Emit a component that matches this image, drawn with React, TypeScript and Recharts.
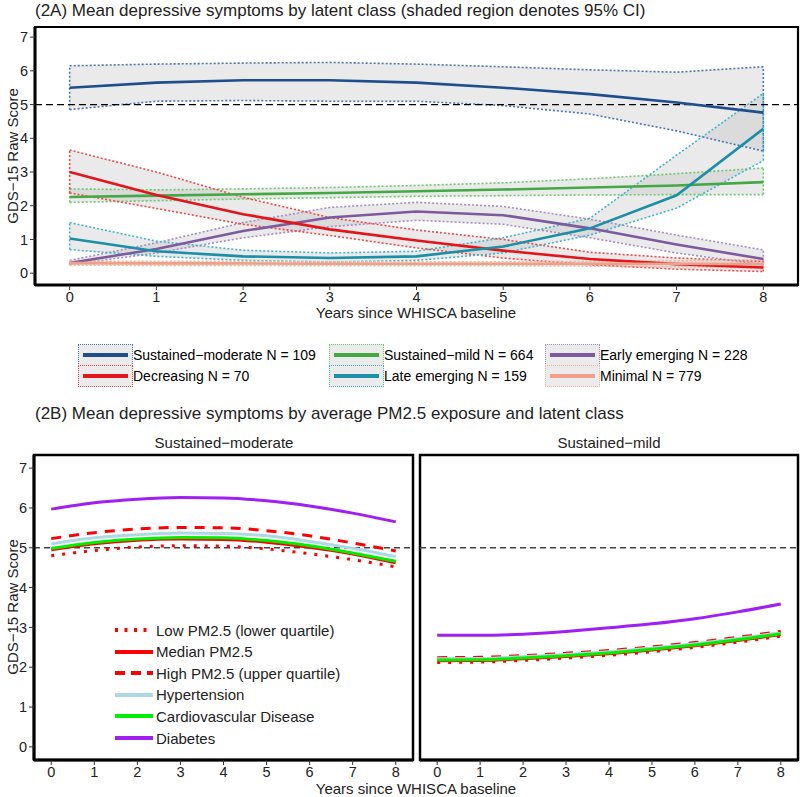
import { ComposedChart, Line, Area, XAxis, YAxis, ReferenceLine, ReferenceArea } from 'recharts'

const years = [0, 1, 2, 3, 4, 5, 6, 7, 8]
const yTicks = [0, 1, 2, 3, 4, 5, 6, 7]

// (2A) latent class means with 95% CI
const modMean = [5.5, 5.65, 5.72, 5.72, 5.65, 5.5, 5.31, 5.06, 4.76]
const modLo = [4.85, 5.1, 5.12, 5.1, 5.1, 4.97, 4.72, 4.22, 3.62]
const modHi = [6.15, 6.2, 6.23, 6.25, 6.2, 6.12, 6.03, 5.96, 6.12]

const mildMean = [2.26, 2.3, 2.34, 2.38, 2.43, 2.48, 2.54, 2.6, 2.7]
const mildLo = [2.1, 2.15, 2.2, 2.24, 2.28, 2.3, 2.32, 2.33, 2.33]
const mildHi = [2.5, 2.47, 2.5, 2.54, 2.6, 2.68, 2.8, 2.95, 3.12]

const earlyMean = [0.3, 0.72, 1.25, 1.65, 1.83, 1.72, 1.33, 0.85, 0.42]
const earlyLo = [0.25, 0.6, 1.05, 1.38, 1.57, 1.45, 1.05, 0.6, 0.25]
const earlyHi = [0.38, 0.9, 1.5, 1.95, 2.1, 1.98, 1.6, 1.13, 0.69]

const decMean = [3.0, 2.32, 1.75, 1.3, 0.97, 0.67, 0.42, 0.27, 0.17]
const decLo = [2.38, 1.92, 1.45, 1.12, 0.75, 0.45, 0.25, 0.12, 0.05]
const decHi = [3.65, 3.0, 2.25, 1.65, 1.28, 1.0, 0.62, 0.45, 0.35]

const lateMean = [1.03, 0.65, 0.5, 0.45, 0.5, 0.79, 1.33, 2.31, 4.28]
const lateLo = [0.7, 0.5, 0.38, 0.33, 0.38, 0.6, 1.13, 1.93, 3.34]
const lateHi = [1.5, 0.95, 0.68, 0.6, 0.65, 1.05, 1.63, 3.5, 5.33]

const minMean = [0.3, 0.29, 0.29, 0.28, 0.28, 0.28, 0.28, 0.28, 0.27]
const minLo = [0.24, 0.23, 0.23, 0.22, 0.22, 0.22, 0.21, 0.19, 0.15]
const minHi = [0.36, 0.35, 0.35, 0.34, 0.34, 0.34, 0.35, 0.37, 0.4]

// (2B) predicted means, Sustained-moderate panel
const lowMod = [4.8, 4.93, 5.02, 5.05, 5.04, 4.97, 4.85, 4.7, 4.52]
const medMod = [4.95, 5.1, 5.19, 5.22, 5.21, 5.14, 5.01, 4.84, 4.62]
const highMod = [5.23, 5.38, 5.47, 5.51, 5.5, 5.43, 5.3, 5.12, 4.92]
const htnMod = [5.1, 5.25, 5.33, 5.37, 5.36, 5.3, 5.16, 4.99, 4.78]
const cvdMod = [4.98, 5.13, 5.22, 5.26, 5.25, 5.18, 5.05, 4.87, 4.66]
const diabMod = [5.97, 6.13, 6.22, 6.26, 6.25, 6.18, 6.05, 5.87, 5.65]

// Sustained-mild panel
const lowMild = [2.12, 2.13, 2.17, 2.23, 2.3, 2.39, 2.5, 2.63, 2.78]
const medMild = [2.16, 2.17, 2.21, 2.27, 2.34, 2.43, 2.54, 2.67, 2.82]
const highMild = [2.24, 2.25, 2.29, 2.35, 2.42, 2.51, 2.62, 2.75, 2.9]
const htnMild = [2.21, 2.22, 2.26, 2.32, 2.39, 2.48, 2.59, 2.72, 2.87]
const cvdMild = [2.18, 2.19, 2.23, 2.29, 2.36, 2.45, 2.56, 2.69, 2.84]
const diabMild = [2.8, 2.8, 2.83, 2.9, 2.99, 3.09, 3.22, 3.39, 3.59]

const FONT = '"Liberation Sans", Arial, sans-serif'
const INK = '#222'

const classes = [
  { key: 'mod', label: 'Sustained−moderate N = 109', color: '#1f4e8c', ci: '#4a76b4', mean: modMean, lo: modLo, hi: modHi },
  { key: 'mild', label: 'Sustained−mild N = 664', color: '#44a844', ci: '#6cc86c', mean: mildMean, lo: mildLo, hi: mildHi },
  { key: 'early', label: 'Early emerging N = 228', color: '#7d5a9e', ci: '#a88cc6', mean: earlyMean, lo: earlyLo, hi: earlyHi },
  { key: 'dec', label: 'Decreasing N = 70', color: '#e3141a', ci: '#f04848', mean: decMean, lo: decLo, hi: decHi },
  { key: 'late', label: 'Late emerging N = 159', color: '#1a8fa6', ci: '#3db6cc', mean: lateMean, lo: lateLo, hi: lateHi },
  { key: 'min', label: 'Minimal N = 779', color: '#f0a088', ci: '#f5b49c', mean: minMean, lo: minLo, hi: minHi },
]

const topRows = years.map((yr, i) => {
  const r: any = { year: yr }
  classes.forEach((c) => {
    r[c.key] = c.mean[i]
    r[c.key + 'Lo'] = c.lo[i]
    r[c.key + 'Hi'] = c.hi[i]
    r[c.key + 'Band'] = [c.lo[i], c.hi[i]]
  })
  return r
})

const groups = [
  { key: 'low', label: 'Low PM2.5 (lower quartile)', color: '#ff0000', dash: '3 8', keyDash: '3 6.5', mod: lowMod, mild: lowMild },
  { key: 'med', label: 'Median PM2.5', color: '#ff0000', dash: undefined, keyDash: undefined, mod: medMod, mild: medMild },
  { key: 'high', label: 'High PM2.5 (upper quartile)', color: '#ff0000', dash: '10 8', keyDash: '10 6', mod: highMod, mild: highMild },
  { key: 'htn', label: 'Hypertension', color: '#add8e6', dash: undefined, keyDash: undefined, mod: htnMod, mild: htnMild },
  { key: 'cvd', label: 'Cardiovascular Disease', color: '#00ee00', dash: undefined, keyDash: undefined, mod: cvdMod, mild: cvdMild },
  { key: 'diab', label: 'Diabetes', color: '#a020f0', dash: undefined, keyDash: undefined, mod: diabMod, mild: diabMild },
]

const modRows = years.map((yr, i) => {
  const r: any = { year: yr }
  groups.forEach((g) => (r[g.key] = g.mod[i]))
  return r
})
const mildRows = years.map((yr, i) => {
  const r: any = { year: yr }
  groups.forEach((g) => (r[g.key] = g.mild[i]))
  return r
})

const tickStyle = { fill: INK, fontSize: 14.5, fontFamily: FONT }

function TopPanel() {
  return (
    <ComposedChart width={800} height={330} data={topRows} margin={{ top: 27, right: 2, bottom: 15, left: 0 }}>
      <XAxis
        dataKey="year"
        type="number"
        domain={[-0.4, 8.4]}
        ticks={years}
        allowDataOverflow
        height={30}
        tick={tickStyle}
        tickSize={5}
        axisLine={{ stroke: '#000', strokeWidth: 3 }}
        tickLine={{ stroke: '#333' }}
      />
      <YAxis
        type="number"
        domain={[-0.35, 7.3]}
        ticks={yTicks}
        allowDataOverflow
        width={35}
        tick={tickStyle}
        tickSize={5}
        axisLine={{ stroke: '#000', strokeWidth: 3 }}
        tickLine={{ stroke: '#333' }}
      />
      <ReferenceArea x1={-0.4} x2={8.4} y1={-0.35} y2={7.3} fill="none" stroke="#000" strokeWidth={2.2} />
      {classes.map((c) => (
        <Area
          key={c.key + 'Band'}
          dataKey={c.key + 'Band'}
          type="linear"
          fill="#b8b8b8"
          fillOpacity={0.3}
          stroke="none"
          isAnimationActive={false}
        />
      ))}
      {classes.map((c) => [
        <Line key={c.key + 'Lo'} dataKey={c.key + 'Lo'} type="linear" stroke={c.ci} strokeWidth={1.6} strokeDasharray="2 2" dot={false} isAnimationActive={false} />,
        <Line key={c.key + 'Hi'} dataKey={c.key + 'Hi'} type="linear" stroke={c.ci} strokeWidth={1.6} strokeDasharray="2 2" dot={false} isAnimationActive={false} />,
        <ReferenceLine key={c.key + 'L'} segment={[{ x: years[0], y: c.lo[0] }, { x: years[0], y: c.hi[0] }]} stroke={c.ci} strokeWidth={1.6} strokeDasharray="2 2" />,
        <ReferenceLine key={c.key + 'R'} segment={[{ x: years[8], y: c.lo[8] }, { x: years[8], y: c.hi[8] }]} stroke={c.ci} strokeWidth={1.6} strokeDasharray="2 2" />,
      ])}
      <ReferenceLine y={5} stroke="#000" strokeWidth={1.3} strokeDasharray="7 4" />
      {classes.map((c) => (
        <Line key={c.key} dataKey={c.key} type="linear" stroke={c.color} strokeWidth={2.6} dot={false} isAnimationActive={false} />
      ))}
    </ComposedChart>
  )
}

function PM25Panel({ rows, showY, width, left }: { rows: any[]; showY: boolean; width: number; left: number }) {
  return (
    <ComposedChart width={width} height={345} data={rows} margin={{ top: 15, right: 2, bottom: 0, left }}>
      <XAxis
        dataKey="year"
        type="number"
        domain={[-0.4, 8.4]}
        ticks={years}
        allowDataOverflow
        height={25}
        tick={tickStyle}
        tickSize={5}
        axisLine={{ stroke: '#000', strokeWidth: 3 }}
        tickLine={{ stroke: '#333' }}
      />
      <YAxis
        type="number"
        domain={[-0.33, 7.33]}
        ticks={yTicks}
        allowDataOverflow
        hide={!showY}
        width={34}
        tick={tickStyle}
        tickSize={5}
        axisLine={{ stroke: '#000', strokeWidth: 3 }}
        tickLine={{ stroke: '#333' }}
      />
      <ReferenceArea x1={-0.4} x2={8.4} y1={-0.33} y2={7.33} fill="none" stroke="#000" strokeWidth={2.5} />
      <ReferenceLine y={5} stroke="#444" strokeWidth={1.5} strokeDasharray="6 4" />
      {groups.map((g) => (
        <Line
          key={g.key}
          dataKey={g.key}
          type="monotone"
          stroke={g.color}
          strokeWidth={3}
          strokeDasharray={g.dash}
          dot={false}
          isAnimationActive={false}
        />
      ))}
    </ComposedChart>
  )
}

const abs = (l: number, t: number): any => ({ position: 'absolute', left: l, top: t })

export default function App() {
  const legendCols = [78, 329, 545]
  const legendRows = [344, 365]
  return (
    <div style={{ position: 'absolute', left: 0, top: 0, width: 800, height: 797, background: '#fff', fontFamily: FONT, color: INK }}>
      <div style={{ ...abs(35, 1), fontSize: 17, lineHeight: '19px', whiteSpace: 'nowrap' }}>
        (2A) Mean depressive symptoms by latent class (shaded region denotes 95% CI)
      </div>
      <div style={abs(0, 0)}>
        <TopPanel />
      </div>
      <div style={{ ...abs(416, 304), transform: 'translateX(-50%)', fontSize: 15, lineHeight: '18px', whiteSpace: 'nowrap' }}>
        Years since WHISCA baseline
      </div>
      <div style={{ ...abs(12, 156), transform: 'translate(-50%, -50%) rotate(-90deg)', fontSize: 15, whiteSpace: 'nowrap' }}>GDS−15 Raw Score</div>

      {classes.map((c, i) => (
        <div key={c.key} style={{ ...abs(legendCols[i % 3], legendRows[Math.floor(i / 3)]), display: 'flex', alignItems: 'center', height: 22 }}>
          <div
            style={{
              boxSizing: 'border-box',
              width: 55,
              height: 22,
              border: `1.5px dotted ${c.ci}`,
              background: '#ebebeb',
              display: 'flex',
              alignItems: 'center',
              justifyContent: 'center',
            }}
          >
            <div style={{ width: 45, height: 4, background: c.color }} />
          </div>
          <span style={{ fontSize: 14, whiteSpace: 'nowrap', color: '#000' }}>{c.label}</span>
        </div>
      ))}

      <div style={{ ...abs(35, 404), fontSize: 17, lineHeight: '19px', whiteSpace: 'nowrap' }}>
        (2B) Mean depressive symptoms by average PM2.5 exposure and latent class
      </div>
      <div style={{ ...abs(224, 434), transform: 'translateX(-50%)', fontSize: 15, lineHeight: '18px', whiteSpace: 'nowrap' }}>Sustained−moderate</div>
      <div style={{ ...abs(609, 434), transform: 'translateX(-50%)', fontSize: 15, lineHeight: '18px', whiteSpace: 'nowrap' }}>Sustained−mild</div>
      <div style={abs(0, 440)}>
        <PM25Panel rows={modRows} showY width={415} left={0} />
      </div>
      <div style={abs(415, 440)}>
        <PM25Panel rows={mildRows} showY={false} width={385} left={5} />
      </div>
      <div style={{ ...abs(416, 780), transform: 'translateX(-50%)', fontSize: 15, lineHeight: '18px', whiteSpace: 'nowrap' }}>
        Years since WHISCA baseline
      </div>
      <div style={{ ...abs(12, 607), transform: 'translate(-50%, -50%) rotate(-90deg)', fontSize: 15, whiteSpace: 'nowrap' }}>GDS−15 Raw Score</div>

      {groups.map((g, i) => (
        <div key={g.key} style={{ ...abs(114, 620 + i * 21.6), display: 'flex', alignItems: 'center', height: 20 }}>
          <svg width={40} height={10}>
            <line x1={1} y1={5} x2={39} y2={5} stroke={g.color} strokeWidth={4} strokeDasharray={g.keyDash} />
          </svg>
          <span style={{ fontSize: 15, marginLeft: 2, whiteSpace: 'nowrap' }}>{g.label}</span>
        </div>
      ))}
    </div>
  )
}
